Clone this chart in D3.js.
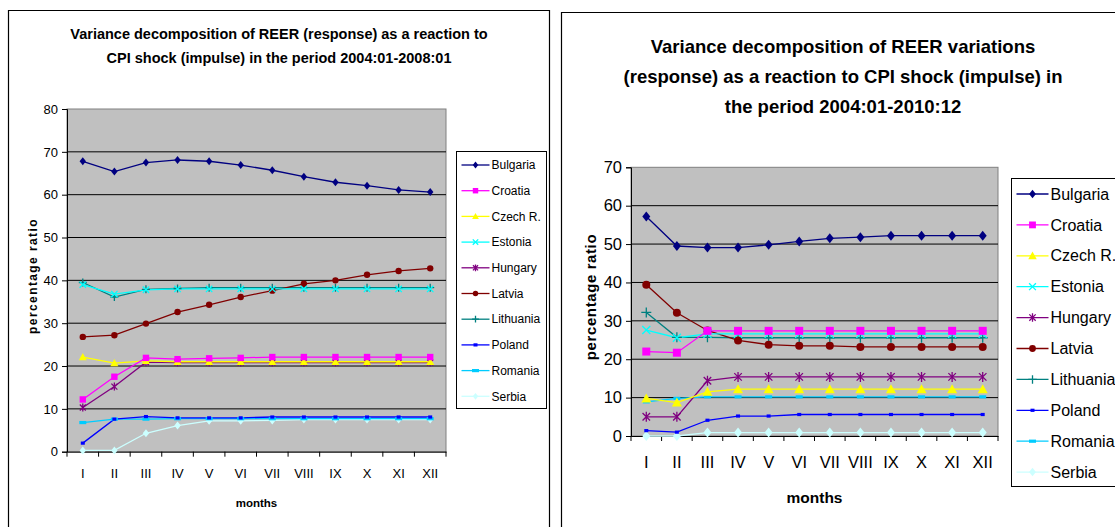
<!DOCTYPE html>
<html><head><meta charset="utf-8">
<script src="https://cdn.jsdelivr.net/npm/d3@7"></script>
<style>body{margin:0;background:#fff}svg{display:block;font-family:"Liberation Sans",Arial,sans-serif}</style>
</head><body><svg id="c" width="1115" height="527"></svg>
<script>
// ---- data ----
const months = ["I","II","III","IV","V","VI","VII","VIII","IX","X","XI","XII"];
const countries = ["Bulgaria","Croatia","Czech R.","Estonia","Hungary","Latvia","Lithuania","Poland","Romania","Serbia"];
const seriesColors = ["#000080","#FF00FF","#FFFF00","#00FFFF","#800080","#800000","#008080","#0000FF","#00CCFF","#CCFFFF"];
const seriesMarkers = ["diamond","square","triangle","x","star","circle","plus","smallrect","dash","diamond"];

const leftTicks = [0,10,20,30,40,50,60,70,80];
const rightTicks = [0,10,20,30,40,50,60,70];

// 2004:01-2008:01
const L_Bulgaria  = [67.8,65.4,67.5,68.1,67.8,66.9,65.7,64.2,62.9,62.1,61.1,60.6];
const L_Croatia   = [12.2,17.5,21.9,21.6,21.8,21.9,22.1,22.1,22.1,22.1,22.1,22.1];
const L_Czech     = [22.1,20.7,21.2,21.0,21.0,21.0,21.0,21.0,21.0,21.0,21.0,21.0];
const L_Estonia   = [39.0,36.8,37.8,38.0,38.0,38.0,38.0,38.0,38.0,38.0,38.0,38.0];
const L_Hungary   = [10.3,15.2,20.9,20.8,20.8,20.8,20.8,20.8,20.8,20.8,20.8,20.8];
const L_Latvia    = [26.8,27.2,29.9,32.6,34.3,36.1,37.6,39.2,40.0,41.3,42.2,42.8];
const L_Lithuania = [39.5,36.1,37.9,38.1,38.3,38.3,38.3,38.3,38.3,38.3,38.3,38.3];
const L_Poland    = [2.0,7.6,8.2,7.9,7.9,7.9,8.1,8.1,8.1,8.1,8.1,8.1];
const L_Romania   = [6.8,7.6,7.6,7.7,7.7,7.7,7.7,7.7,7.7,7.7,7.7,7.7];
const L_Serbia    = [0.3,0.3,4.3,6.1,7.2,7.2,7.3,7.5,7.5,7.5,7.5,7.5];

// 2004:01-2010:12
const R_Bulgaria  = [57.2,49.5,49.1,49.1,49.8,50.7,51.5,51.8,52.2,52.2,52.2,52.2];
const R_Croatia   = [22.0,21.7,27.4,27.4,27.4,27.4,27.4,27.4,27.4,27.4,27.4,27.4];
const R_Czech     = [9.8,8.7,11.5,12.2,12.2,12.2,12.2,12.2,12.2,12.2,12.2,12.2];
const R_Estonia   = [27.6,25.6,26.6,26.6,26.6,26.6,26.6,26.6,26.6,26.6,26.6,26.6];
const R_Hungary   = [5.0,5.0,14.4,15.4,15.4,15.4,15.4,15.4,15.4,15.4,15.4,15.4];
const R_Latvia    = [39.4,32.1,27.5,24.9,23.8,23.5,23.5,23.2,23.2,23.2,23.2,23.2];
const R_Lithuania = [32.2,25.7,25.7,25.6,25.6,25.6,25.6,25.6,25.6,25.6,25.6,25.6];
const R_Poland    = [1.4,1.0,4.1,5.2,5.2,5.6,5.6,5.6,5.6,5.6,5.6,5.6];
const R_Romania   = [8.9,9.8,10.2,10.2,10.2,10.2,10.2,10.2,10.2,10.2,10.2,10.2];
const R_Serbia    = [0.0,0.0,0.9,0.9,0.9,0.9,0.9,0.9,0.9,0.9,0.9,0.9];

const leftTitle = ["Variance decomposition of REER (response) as a reaction to","CPI shock (impulse) in the period 2004:01-2008:01"];
const rightTitle = ["Variance decomposition of REER variations","(response) as a reaction to CPI shock (impulse) in","the period 2004:01-2010:12"];

const leftSeries = [L_Bulgaria,L_Croatia,L_Czech,L_Estonia,L_Hungary,L_Latvia,L_Lithuania,L_Poland,L_Romania,L_Serbia];
const rightSeries = [R_Bulgaria,R_Croatia,R_Czech,R_Estonia,R_Hungary,R_Latvia,R_Lithuania,R_Poland,R_Romania,R_Serbia];

const svg = d3.select("#c");

function marker(g, type, color, s){
  const k = s;
  if(type==="diamond"){
    g.append("path").attr("d",`M0,${-k}L${k*0.8},0L0,${k}L${-k*0.8},0Z`).attr("fill",color);
  } else if(type==="square"){
    g.append("rect").attr("x",-k*0.8).attr("y",-k*0.8).attr("width",k*1.6).attr("height",k*1.6).attr("fill",color);
  } else if(type==="triangle"){
    g.append("path").attr("d",`M0,${-k}L${k},${k*0.8}L${-k},${k*0.8}Z`).attr("fill",color);
  } else if(type==="x"){
    const a=k*0.8;
    g.append("path").attr("d",`M${-a},${-a}L${a},${a}M${-a},${a}L${a},${-a}`).attr("stroke",color).attr("stroke-width",1.3).attr("fill","none");
  } else if(type==="star"){
    const a=k*0.75;
    g.append("path").attr("d",`M${-a},${-a}L${a},${a}M${-a},${a}L${a},${-a}M0,${-k}L0,${k}`).attr("stroke",color).attr("stroke-width",1.3).attr("fill","none");
  } else if(type==="circle"){
    g.append("circle").attr("r",k*0.8).attr("fill",color);
  } else if(type==="plus"){
    g.append("path").attr("d",`M${-k},0L${k},0M0,${-k}L0,${k}`).attr("stroke",color).attr("stroke-width",1.3).attr("fill","none");
  } else if(type==="smallrect"){
    g.append("rect").attr("x",-2).attr("y",-1.6).attr("width",4).attr("height",3.2).attr("fill",color);
  } else if(type==="dash"){
    g.append("rect").attr("x",-3.5).attr("y",-1.6).attr("width",7).attr("height",3.2).attr("fill",color);
  }
}

function drawChart(cfg){
  const root = svg.append("g");
  // frame
  root.append("path").attr("d",`M${cfg.frame[0]},530V${cfg.frame[1]}H${cfg.frame[2]}V530`)
    .attr("fill","none").attr("stroke","#000").attr("stroke-width",1.2);
  // title
  cfg.title.forEach((line,i)=>{
    root.append("text").attr("font-weight","bold").attr("font-size",cfg.titleSize).attr("text-anchor","middle").attr("fill","#000")
      .attr("x",cfg.titleX).attr("y",cfg.titleY+i*cfg.titleLH).text(line);
  });
  const x = d3.scaleBand().domain(months).range([cfg.px0,cfg.px1]);
  const y = d3.scaleLinear().domain([0,cfg.ymax]).range([cfg.py0,cfg.py1]);
  // plot bg
  root.append("rect").attr("x",cfg.px0).attr("y",cfg.py1).attr("width",cfg.px1-cfg.px0).attr("height",cfg.py0-cfg.py1)
    .attr("fill","#C0C0C0").attr("stroke","#808080").attr("stroke-width",1);
  // grid
  root.append("g").selectAll("line").data(cfg.ticks.filter(d=>d>0 && d<cfg.ymax)).join("line")
    .attr("x1",cfg.px0).attr("x2",cfg.px1).attr("y1",d=>y(d)).attr("y2",d=>y(d)).attr("stroke","#000").attr("stroke-width",1);
  // y axis
  const ya = root.append("g").attr("transform",`translate(${cfg.px0},0)`)
    .call(d3.axisLeft(y).tickValues(cfg.ticks).tickSize(5).tickPadding(cfg.tickPadY).tickFormat(d3.format("d")));
  ya.select(".domain").attr("stroke","#000");
  ya.selectAll(".tick line").attr("stroke","#000");
  ya.selectAll("text").attr("font-size",cfg.tickSize).attr("font-family","Liberation Sans, Arial, sans-serif").attr("fill","#000");
  // x axis
  const xa = root.append("g").attr("transform",`translate(0,${cfg.py0})`)
    .call(d3.axisBottom(x).tickSize(0).tickPadding(cfg.tickPadX));
  xa.select(".domain").attr("stroke","#000");
  xa.selectAll("text").attr("font-size",cfg.tickSize).attr("font-family","Liberation Sans, Arial, sans-serif").attr("fill","#000");
  // x tick marks between categories
  root.append("g").selectAll("line").data(d3.range(months.length+1)).join("line")
    .attr("x1",i=>cfg.px0+i*x.step()).attr("x2",i=>cfg.px0+i*x.step())
    .attr("y1",cfg.py0).attr("y2",cfg.py0+5).attr("stroke","#000");
  // axis titles
  root.append("text").attr("x",(cfg.px0+cfg.px1)/2).attr("y",cfg.xTitleY).attr("text-anchor","middle")
    .attr("font-weight","bold").attr("font-size",cfg.axTitleSize).text("months");
  root.append("text").attr("transform",`translate(${cfg.yTitleX},${cfg.yTitleY}) rotate(-90)`).attr("text-anchor","middle")
    .attr("font-weight","bold").attr("font-size",cfg.yTitleSize).attr("letter-spacing",cfg.yLetter).text("percentage ratio");
  // series
  const line = d3.line().x((d,i)=>x(months[i])+x.bandwidth()/2).y(d=>y(d));
  const order = [9,8,7,6,5,4,3,2,1,0];
  order.forEach(si=>{
    const vals = cfg.series[si];
    root.append("path").attr("d",line(vals)).attr("fill","none").attr("stroke",seriesColors[si]).attr("stroke-width",cfg.lw);
  });
  order.forEach(si=>{
    const vals = cfg.series[si];
    vals.forEach((v,i)=>{
      const g = root.append("g").attr("transform",`translate(${x(months[i])+x.bandwidth()/2},${y(v)})`);
      marker(g,seriesMarkers[si],seriesColors[si],cfg.ms);
    });
  });
  // legend
  const lg = root.append("g");
  lg.append("rect").attr("x",cfg.lx).attr("y",cfg.ly).attr("width",cfg.lw2).attr("height",cfg.lh)
    .attr("fill","#fff").attr("stroke","#000").attr("stroke-width",1);
  countries.forEach((c,i)=>{
    const yy = cfg.ly0 + i*cfg.lstep;
    const g = lg.append("g");
    g.append("line").attr("x1",cfg.lx+5).attr("x2",cfg.lx+5+cfg.lsample).attr("y1",yy).attr("y2",yy)
      .attr("stroke",seriesColors[i]).attr("stroke-width",cfg.lw);
    const mg = g.append("g").attr("transform",`translate(${cfg.lx+5+cfg.lsample/2},${yy})`);
    marker(mg,seriesMarkers[i],seriesColors[i],cfg.ms*0.85);
    g.append("text").attr("x",cfg.lx+7+cfg.lsample).attr("y",yy).attr("dy","0.35em")
      .attr("font-size",cfg.legSize).text(c);
  });
}

drawChart({
  frame:[8.5,10.5,549.5], title:leftTitle, titleX:279, titleY:38.5, titleLH:24, titleSize:14.5,
  px0:67, px1:446, py0:451.7, py1:109, ymax:80, ticks:leftTicks, series:leftSeries,
  tickSize:13, tickPadY:4, tickPadX:17, axTitleSize:11.5, xTitleY:507, yTitleX:37, yTitleY:276, yTitleSize:12, yLetter:"1.4px",
  lw:1.3, ms:4, lx:456.5, ly:151.5, lw2:90, lh:257, ly0:165, lstep:25.7, lsample:28, legSize:12
});
drawChart({
  frame:[561.5,12.5,1120], title:rightTitle, titleX:843, titleY:52.5, titleLH:30, titleSize:18.5,
  px0:631, px1:998, py0:436, py1:167.3, ymax:70, ticks:rightTicks, series:rightSeries,
  tickSize:16.5, tickPadY:4, tickPadX:20, axTitleSize:15.5, xTitleY:503, yTitleX:596, yTitleY:297, yTitleSize:15, yLetter:"0.6px",
  lw:1.3, ms:5, lx:1011.5, ly:178.5, lw2:120, lh:308, ly0:194, lstep:30.9, lsample:32, legSize:16
});
</script></body></html>
